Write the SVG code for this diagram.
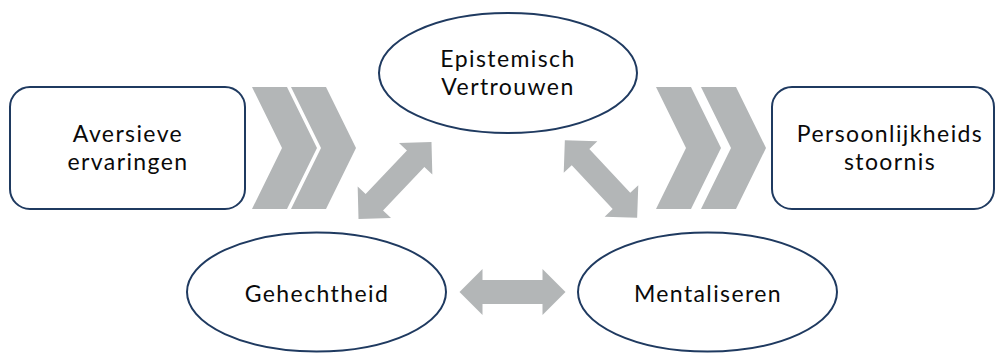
<svg xmlns="http://www.w3.org/2000/svg" width="997" height="353" viewBox="0 0 997 353">
<defs>
<style>
.node{fill:#ffffff;stroke:#1f3a60;stroke-width:2}
.lbl{font-family:Lato,"Open Sans","Liberation Sans",sans-serif;font-size:23px;font-weight:400;letter-spacing:1.4px;fill:#0a0a0a;text-anchor:middle}
.gray{fill:#b3b6b7}
</style>
<path id="dbl" d="M-53,0 L-30,-23 L-30,-12 L30,-12 L30,-23 L53,0 L30,23 L30,12 L-30,12 L-30,23 Z"/>
<path id="chev" d="M0,0 L35,0 L65,61 L35,122 L0,122 L30,61 Z"/>
</defs>
<rect width="997" height="353" fill="#ffffff"/>
<g id="connectors" class="gray">
<use href="#chev" x="252" y="87"/>
<use href="#chev" x="291" y="87"/>
<use href="#chev" x="656" y="87"/>
<use href="#chev" x="701" y="87"/>
<use href="#dbl" transform="translate(395,180.5) rotate(-46.5)"/>
<use href="#dbl" transform="translate(601,179) rotate(47)"/>
<use href="#dbl" transform="translate(512.5,292)"/>
</g>
<g id="aversieve">
<rect class="node" x="10" y="87" width="235" height="122" rx="20"/>
<text class="lbl" x="128" y="142">Aversieve<tspan x="128" dy="28">ervaringen</tspan></text>
</g>
<g id="persoonlijkheid">
<rect class="node" x="772" y="87" width="222" height="122" rx="20"/>
<text class="lbl" x="890" y="142">Persoonlijkheids<tspan x="890" dy="28">stoornis</tspan></text>
</g>
<g id="epistemisch">
<ellipse class="node" cx="508" cy="73" rx="129" ry="60"/>
<text class="lbl" x="508" y="67">Epistemisch<tspan x="508" dy="28">Vertrouwen</tspan></text>
</g>
<g id="gehechtheid">
<ellipse class="node" cx="316.5" cy="292" rx="129.5" ry="59.5"/>
<text class="lbl" x="317" y="302">Gehechtheid</text>
</g>
<g id="mentaliseren">
<ellipse class="node" cx="707.5" cy="292" rx="129.5" ry="59.5"/>
<text class="lbl" x="708" y="302">Mentaliseren</text>
</g>
</svg>
